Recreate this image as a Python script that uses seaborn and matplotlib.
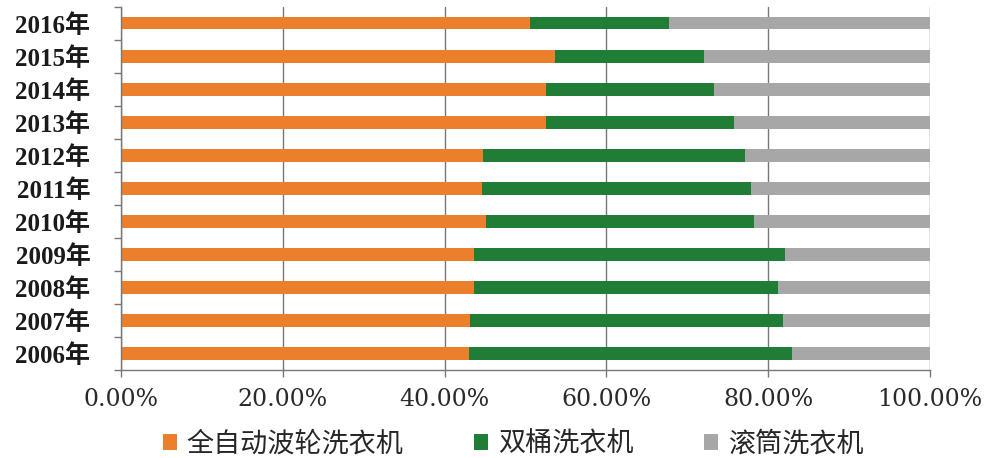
import matplotlib
matplotlib.use("Agg")
import matplotlib.pyplot as plt
from matplotlib.patches import Patch
import numpy as np
import pandas as pd
import seaborn as sns

# Market share of washing machine types by year (%)
years = ["2016年", "2015年", "2014年", "2013年", "2012年", "2011年",
         "2010年", "2009年", "2008年", "2007年", "2006年"]
pulsator = [50.6, 53.6, 52.5, 52.5, 44.8, 44.6, 45.1, 43.7, 43.7, 43.1, 43.0]
twin_tub = [17.2, 18.5, 20.8, 23.3, 32.3, 33.3, 33.2, 38.4, 37.5, 38.7, 40.0]
drum = [32.2, 27.9, 26.7, 24.2, 22.9, 22.1, 21.7, 17.9, 18.8, 18.2, 17.0]

series_names = ["全自动波轮洗衣机", "双桶洗衣机", "滚筒洗衣机"]
colors = ["#EC7F2C", "#1F7D36", "#A7A7A7"]

sns.set_theme(style="white")
plt.rcParams["font.family"] = ["Noto Sans CJK SC", "DejaVu Sans"]

df = pd.DataFrame({"year": years, "p": pulsator, "t": twin_tub, "d": drum})
df["c1"] = df["p"]
df["c2"] = df["p"] + df["t"]
df["c3"] = df["p"] + df["t"] + df["d"]

fig = plt.figure(figsize=(9.89, 4.58), dpi=100)
ax = fig.add_axes([0.1223, 0.192, 0.8180, 0.793])

# stacked bars: draw cumulative totals back to front
for col, color in zip(["c3", "c2", "c1"], colors[::-1]):
    sns.barplot(data=df, x=col, y="year", order=years, orient="h",
                color=color, width=0.37, ax=ax, saturation=1,
                edgecolor="none", linewidth=0)

ax.set_xlim(0, 100)
ax.set_ylim(len(years) - 0.5, -0.5)
ax.set_xlabel("")
ax.set_ylabel("")

xt = [0, 20, 40, 60, 80, 100]
ax.set_xticks(xt)
ax.set_xticklabels([f"{v:.2f}%" for v in xt],
                   family=["DejaVu Serif"], fontsize=17, color="#2a2a2a")
ax.xaxis.grid(True, color="#777777", linewidth=1.0)
ax.set_axisbelow(True)

ax.set_yticks(range(len(years)))
ax.set_yticklabels(years, family=["Liberation Serif", "Noto Sans CJK SC"],
                   fontsize=18, fontweight="bold", color="#1a1a1a")

# category boundary ticks on the value axis
ax.set_yticks(np.arange(-0.5, len(years), 1.0), minor=True)
ax.tick_params(axis="y", which="major", length=0, pad=22)
ax.tick_params(axis="y", which="minor", length=5, color="#777777", width=1, left=True)
ax.tick_params(axis="x", which="major", length=5, color="#777777", width=1,
               bottom=True, pad=8)

for side in ["top", "right"]:
    ax.spines[side].set_visible(False)
for side in ["left", "bottom"]:
    ax.spines[side].set_color("#777777")
    ax.spines[side].set_linewidth(1.0)

handles = [Patch(facecolor=c, edgecolor="none") for c in colors]
fig.legend(handles, series_names, loc="center", bbox_to_anchor=(0.519, 0.03),
           ncol=3, frameon=False, fontsize=19.5, handlelength=0.52, handleheight=0.52,
           handletextpad=0.37, columnspacing=2.6, borderpad=0)

fig.savefig("out.png", dpi=100, facecolor="white")
